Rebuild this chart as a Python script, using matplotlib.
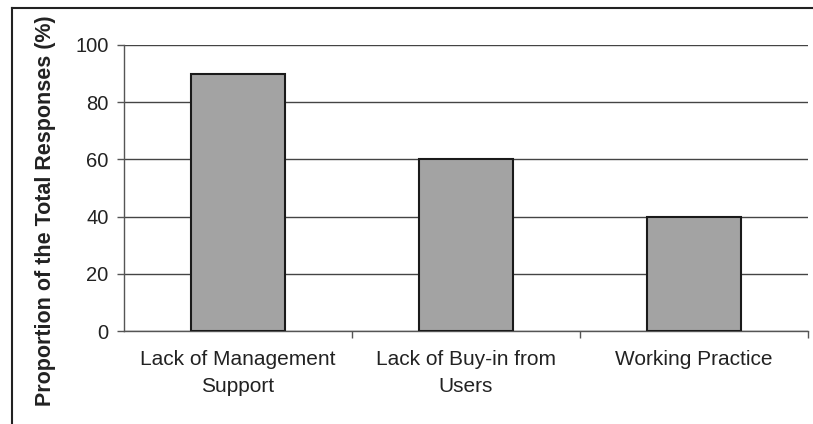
import matplotlib
matplotlib.use("Agg")
import matplotlib.pyplot as plt
from matplotlib.lines import Line2D

categories = ["Lack of Management\nSupport", "Lack of Buy-in from\nUsers", "Working Practice"]
values = [90, 60, 40]
yticks = [0, 20, 40, 60, 80, 100]

plt.rcParams['font.family'] = ['Liberation Sans', 'DejaVu Sans']

fig = plt.figure(figsize=(8.13, 4.24), dpi=100)
fig.patch.set_facecolor('white')
ax = fig.add_axes([0.1525, 0.2193, 0.8413, 0.6746])

x = list(range(len(categories)))
ax.bar(x, values, width=0.41, color='#a3a3a3', edgecolor='#1a1a1a', linewidth=1.5, zorder=3)

ax.set_xlim(-0.5, len(categories) - 0.5)
ax.set_ylim(0, 100)
ax.set_yticks(yticks)
ax.set_yticklabels([str(v) for v in yticks], fontsize=14.5, color='#222222')
ax.yaxis.grid(True, color='#444444', linewidth=1.0, zorder=0)
ax.set_axisbelow(True)

ax.set_xticks(x)
ax.set_xticklabels(categories, fontsize=15, color='#222222', linespacing=1.5)
ax.tick_params(axis='x', length=0, pad=14)
ax.set_xticks([i + 0.5 for i in range(len(categories))], minor=True)
ax.tick_params(axis='x', which='minor', length=5, width=1, color='#555555', direction='out')
ax.tick_params(axis='y', length=5, width=1, color='#555555', direction='out', pad=6)

for s in ['top', 'right']:
    ax.spines[s].set_visible(False)
for s in ['left', 'bottom']:
    ax.spines[s].set_color('#555555')
    ax.spines[s].set_linewidth(1.0)

ax.set_ylabel("Proportion of the Total Responses (%)", fontsize=15.5, fontweight='bold', color='#222222')
ax.yaxis.set_label_coords(-0.099, 0.42)

# outer frame lines
fig.add_artist(Line2D([12/813, 1.0], [1 - 8/424, 1 - 8/424], transform=fig.transFigure, color='#222222', linewidth=1.5))
fig.add_artist(Line2D([12/813, 12/813], [0, 1 - 8/424], transform=fig.transFigure, color='#222222', linewidth=1.5))

fig.savefig("out.png", dpi=100, facecolor='white')
